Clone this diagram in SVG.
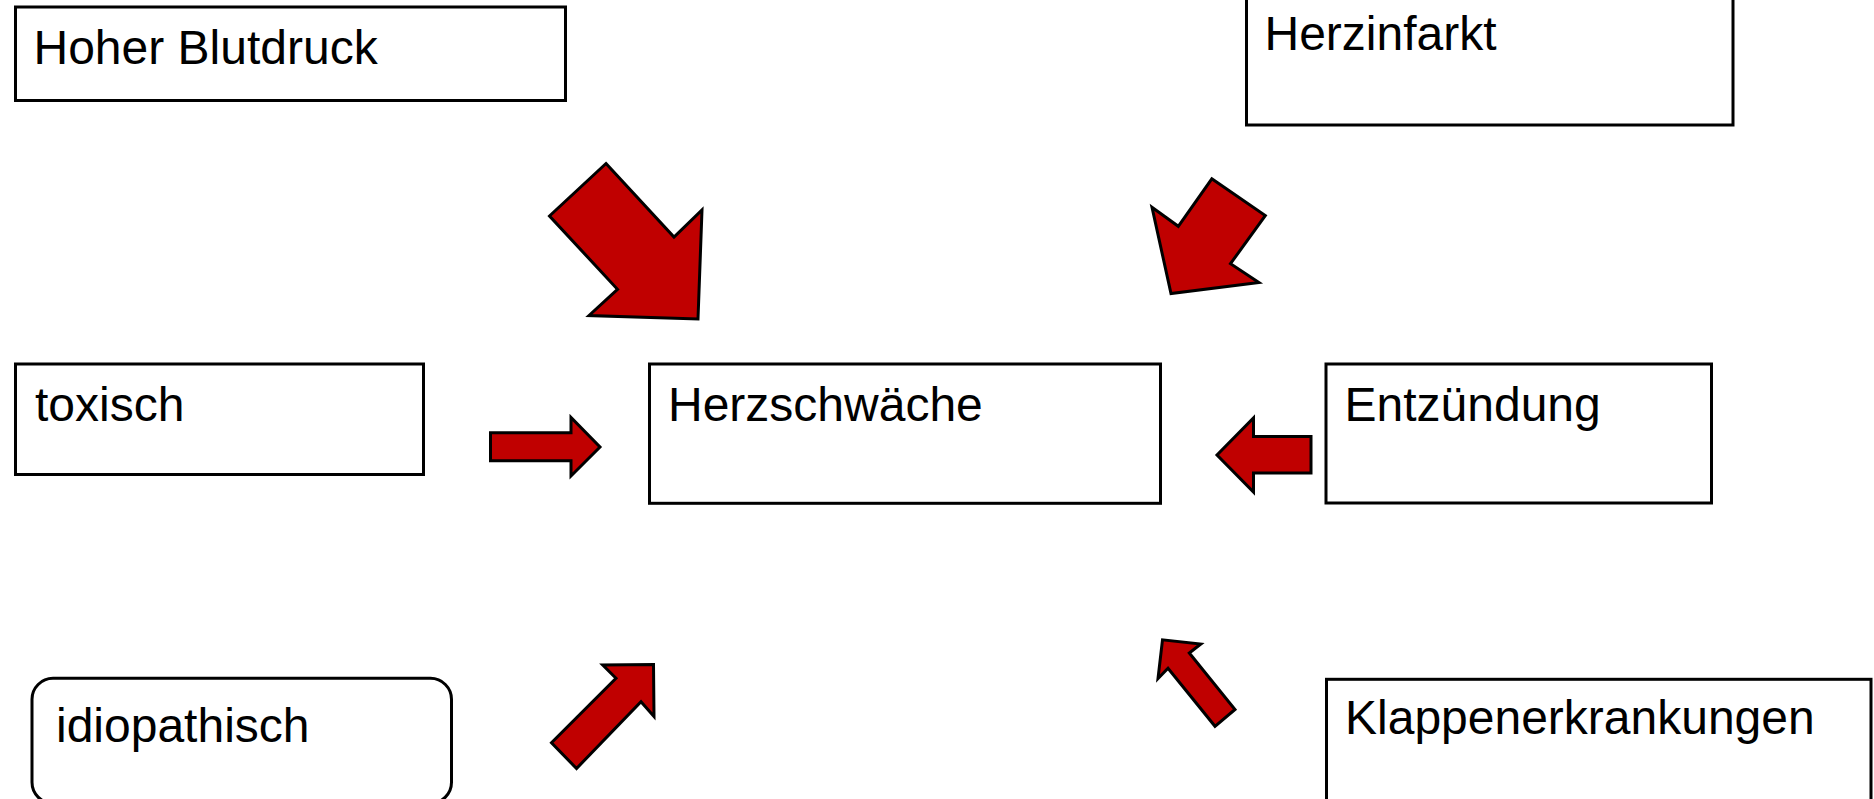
<svg xmlns="http://www.w3.org/2000/svg" width="1874" height="799" viewBox="0 0 1874 799">
  <style>
    .box { fill: #ffffff; stroke: #000000; stroke-width: 3; }
    .lbl { font-family: "Liberation Sans", Arial, sans-serif; font-size: 48px; fill: #000000; }
    .arrow { fill: #C00000; stroke: #000000; stroke-width: 3; stroke-linejoin: miter; }
  </style>
  <rect x="0" y="0" width="1874" height="799" fill="#ffffff"/>
  <g id="connectors">
    <polygon class="arrow" points="606,163.5 674,237 702,210 698,319 589,315.5 617.5,289.3 549.5,216"/>
    <polygon class="arrow" points="1211.8,178.8 1265.3,215.6 1230.5,263.7 1258.9,282.5 1171,293.6 1152,207.3 1178.3,226.3"/>
    <polygon class="arrow" points="490.5,432.7 571,432.7 571,417.5 600,447 571,476 571,460.7 490.5,460.7"/>
    <polygon class="arrow" points="1311,436.5 1253.5,436.5 1253.5,418 1217,455 1253.5,492 1253.5,473 1311,473"/>
    <polygon class="arrow" points="576.5,768.5 551.5,742.8 616,678.3 602.7,665 653.5,664.5 654,716.5 641,701.8"/>
    <polygon class="arrow" points="1215,726.3 1235,709.5 1189.3,653 1200.8,644 1162.5,639.8 1158,678.5 1168,668.3"/>
  </g>
  <g id="node-hoher-blutdruck">
    <rect class="box" x="15.5" y="7" width="550" height="93.5"/>
    <text class="lbl" x="33.5" y="64">Hoher Blutdruck</text>
  </g>
  <g id="node-herzinfarkt">
    <rect class="box" x="1246.5" y="-20" width="486.5" height="145"/>
    <text class="lbl" x="1264.5" y="49.5">Herzinfarkt</text>
  </g>
  <g id="node-toxisch">
    <rect class="box" x="15.5" y="364" width="408" height="110.5"/>
    <text class="lbl" x="35" y="420.7">toxisch</text>
  </g>
  <g id="node-herzschwaeche">
    <rect class="box" x="649.5" y="364" width="511" height="139.3"/>
    <text class="lbl" x="668" y="420.7">Herzschwäche</text>
  </g>
  <g id="node-entzuendung">
    <rect class="box" x="1326" y="364" width="385.5" height="139"/>
    <text class="lbl" x="1344.5" y="420.7">Entzündung</text>
  </g>
  <g id="node-idiopathisch">
    <rect class="box" x="32" y="678.3" width="419.5" height="125" rx="21" ry="21"/>
    <text class="lbl" x="56" y="741.7">idiopathisch</text>
  </g>
  <g id="node-klappenerkrankungen">
    <rect class="box" x="1326.5" y="679.3" width="544.5" height="140"/>
    <text class="lbl" x="1345" y="734">Klappenerkrankungen</text>
  </g>
</svg>
